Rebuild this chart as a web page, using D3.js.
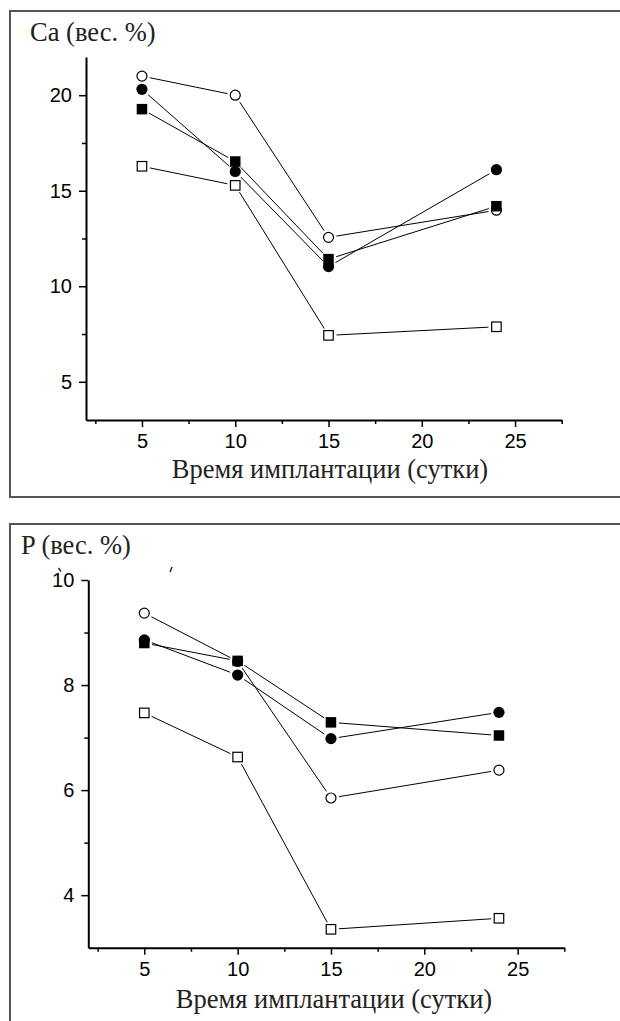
<!DOCTYPE html>
<html>
<head>
<meta charset="utf-8">
<script src="https://cdn.jsdelivr.net/npm/d3@7"></script>
<style>
body { margin: 0; background: white; }
.num { font-family: 'Liberation Sans', Arial, Helvetica, sans-serif; }
.ser { font-family: 'Liberation Serif', 'Times New Roman', Times, serif; }
</style>
</head>
<body>
<script>
// days of implantation
var days = [5, 10, 15, 24];

// Ca, weight %
var caOpenCircle = [21.0, 20.0, 12.56, 13.98];
var caFilledCircle = [20.31, 16.01, 11.03, 16.1];
var caFilledSquare = [19.27, 16.53, 11.42, 14.19];
var caOpenSquare = [16.28, 15.28, 7.43, 7.88];

// P, weight %
var pOpenCircle = [9.37, 8.45, 5.85, 6.38];
var pFilledCircle = [8.86, 8.19, 6.98, 7.48];
var pFilledSquare = [8.80, 8.46, 7.29, 7.04];
var pOpenSquare = [7.47, 6.63, 3.35, 3.56];

var xTicks = [5, 10, 15, 20, 25];
var xMinor = [2.5, 7.5, 12.5, 17.5, 22.5, 27.5];
var caTicks = [5, 10, 15, 20];
var caMinor = [7.5, 12.5, 17.5];
var pTicks = [4, 6, 8, 10];
var pMinor = [5, 7, 9];

var xTitle = 'Время имплантации (сутки)';

var svg = d3.select('body').append('svg')
	.attr('width', 620)
	.attr('height', 1021);

function drawPanel(o){
	var g = svg.append('g');

	g.append('rect')//frame
		.attr('x', o.frame[0]).attr('y', o.frame[1])
		.attr('width', o.frame[2]).attr('height', o.frame[3])
		.attr('fill', 'none')
		.attr('stroke', '#555')
		.attr('stroke-width', 2);

	var x = d3.scaleLinear().domain([2, 27.5]).range([o.left, o.right]);
	var y = d3.scaleLinear().domain(o.yDomain).range([o.bottom, o.top]);

	// minor ticks
	g.append('g')
		.attr('transform', 'translate(0,' + o.bottom + ')')
		.call(d3.axisBottom(x).tickValues(xMinor).tickSize(4).tickSizeOuter(0).tickFormat(''))
		.call(function(s){ s.select('.domain').remove(); });
	g.append('g')
		.attr('transform', 'translate(' + o.left + ',0)')
		.call(d3.axisLeft(y).tickValues(o.yMinor).tickSize(4).tickSizeOuter(0).tickFormat(''))
		.call(function(s){ s.select('.domain').remove(); });

	g.append('g')
		.attr('transform', 'translate(0,' + o.bottom + ')')
		.call(d3.axisBottom(x).tickValues(xTicks).tickSize(7).tickSizeOuter(0).tickPadding(7).tickFormat(d3.format('d')));
	g.append('g')
		.attr('transform', 'translate(' + o.left + ',0)')
		.call(d3.axisLeft(y).tickValues(o.yTicks).tickSize(7).tickSizeOuter(0).tickPadding(7).tickFormat(d3.format('d')));

	g.selectAll('.tick line').attr('stroke', '#000').attr('stroke-width', 1.5);
	g.selectAll('.domain').attr('stroke', '#000').attr('stroke-width', 2);
	g.selectAll('g').attr('font-family', null);
	g.selectAll('.tick text')
		.attr('class', 'num')
		.attr('fill', '#000')
		.attr('font-size', 20);

	g.append('text')//y title
		.attr('class', 'ser')
		.attr('x', o.titleX).attr('y', o.titleY)
		.attr('font-size', 26.5)
		.attr('fill', '#222')
		.text(o.title);

	g.append('text')//x title
		.attr('class', 'ser')
		.attr('x', o.xTitleX).attr('y', o.xTitleY)
		.attr('text-anchor', 'middle')
		.attr('font-size', 26.5)
		.attr('fill', '#222')
		.text(xTitle);

	// lines with a gap to the symbols
	var gap = 8;
	o.series.forEach(function(s){
		for (var i = 0; i < days.length - 1; i++){
			var x1 = x(days[i]), y1 = y(s.values[i]);
			var x2 = x(days[i+1]), y2 = y(s.values[i+1]);
			var len = Math.sqrt((x2-x1)*(x2-x1) + (y2-y1)*(y2-y1));
			var dx = (x2-x1)/len, dy = (y2-y1)/len;
			g.append('line')
				.attr('x1', x1 + dx*gap).attr('y1', y1 + dy*gap)
				.attr('x2', x2 - dx*gap).attr('y2', y2 - dy*gap)
				.attr('stroke', '#000')
				.attr('stroke-width', 1);
		}
	});

	o.series.forEach(function(s){
		var pts = g.selectAll(null).data(s.values).enter();
		if (s.shape == 'circle'){
			pts.append('circle')
				.attr('cx', function(d, i){ return x(days[i]); })
				.attr('cy', function(d){ return y(d); })
				.attr('r', s.filled ? 5.6 : 5)
				.attr('fill', s.filled ? '#000' : '#fff')
				.attr('stroke', '#000')
				.attr('stroke-width', s.filled ? 0 : 1.2);
		} else {
			var a = s.filled ? 10.5 : 9.5;
			pts.append('rect')
				.attr('x', function(d, i){ return x(days[i]) - a/2; })
				.attr('y', function(d){ return y(d) - a/2; })
				.attr('width', a).attr('height', a)
				.attr('fill', s.filled ? '#000' : '#fff')
				.attr('stroke', '#000')
				.attr('stroke-width', s.filled ? 0 : 1.2);
		}
	});
	return g;
}

drawPanel({
	frame: [10, 11, 620, 486],
	left: 86, right: 561.7, top: 57, bottom: 420,
	yDomain: [3, 22], yTicks: caTicks, yMinor: caMinor,
	title: 'Ca (вес. %)', titleX: 30, titleY: 41,
	xTitleX: 330, xTitleY: 478,
	series: [
		{values: caOpenCircle, shape: 'circle', filled: false},
		{values: caFilledCircle, shape: 'circle', filled: true},
		{values: caFilledSquare, shape: 'square', filled: true},
		{values: caOpenSquare, shape: 'square', filled: false}
	]
});

var pPanel = drawPanel({
	frame: [10, 524, 620, 600],
	left: 88.3, right: 564.3, top: 580, bottom: 947.7,
	yDomain: [3, 10], yTicks: pTicks, yMinor: pMinor,
	title: 'P (вес. %)', titleX: 21, titleY: 554,
	xTitleX: 334, xTitleY: 1008,
	series: [
		{values: pOpenCircle, shape: 'circle', filled: false},
		{values: pFilledCircle, shape: 'circle', filled: true},
		{values: pFilledSquare, shape: 'square', filled: true},
		{values: pOpenSquare, shape: 'square', filled: false}
	]
});

// stray marks of the original scan
pPanel.append('path').attr('d', 'M58.5,568 L61,571.5')
	.attr('stroke', '#222').attr('stroke-width', 1.3).attr('fill', 'none');
pPanel.append('path').attr('d', 'M172,567 L170,572')
	.attr('stroke', '#222').attr('stroke-width', 1.4).attr('fill', 'none');
</script>
</body>
</html>
